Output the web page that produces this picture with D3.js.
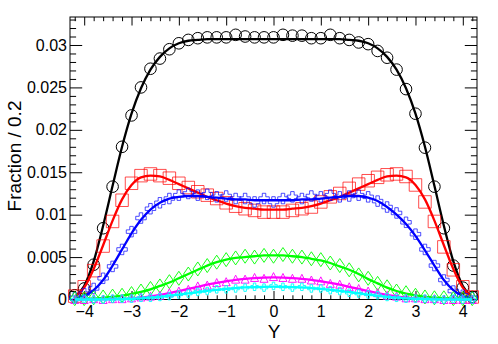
<!DOCTYPE html>
<html><head><meta charset="utf-8">
<script src="https://cdn.jsdelivr.net/npm/d3@7"></script>
<style>
body{margin:0;background:#fff}
svg{display:block}
text{font-family:"Liberation Sans",Arial,Helvetica,sans-serif}
</style>
</head><body>
<svg id="c" width="498" height="344"></svg>
<script>
// ---------- data ----------
const binCenters = [-4.2,-4.0,-3.8,-3.6,-3.4,-3.2,-3.0,-2.8,-2.6,-2.4,-2.2,-2.0,-1.8,-1.6,-1.4,-1.2,-1.0,-0.8,-0.6,-0.4,-0.2,0,
  0.2,0.4,0.6,0.8,1.0,1.2,1.4,1.6,1.8,2.0,2.2,2.4,2.6,2.8,3.0,3.2,3.4,3.6,3.8,4.0,4.2];
const xTickLabels = [-4,-3,-2,-1,0,1,2,3,4];
const yTickValues = [0,0.005,0.01,0.015,0.02,0.025,0.03];
const yTickLabels = ["0","0.005","0.01","0.015","0.02","0.025","0.03"];
const xTitle = "Y";
const yTitle = "Fraction / 0.2";

const blackData = [0.0005,0.0013,0.0041,0.0084,0.0133,0.0180,0.0217,0.0250,0.0272,0.0284,0.0295,0.0302,0.0306,0.0308,0.0309,0.0309,0.0309,0.0312,0.0310,0.0309,0.0309,0.0309,
  0.0312,0.0311,0.0311,0.0308,0.0308,0.0312,0.0308,0.0306,0.0303,0.0301,0.0293,0.0285,0.0271,0.0248,0.0219,0.0179,0.0133,0.0084,0.0040,0.0014,0.0003];
const blackFit = [0.0003,0.0016,0.0045,0.0087,0.0134,0.0180,0.0219,0.0249,0.0271,0.0286,0.0296,0.0302,0.0305,0.0306,
  0.0307,0.0307,0.0307,0.0307,0.0307,0.0307,0.0307,0.0307,0.0307,0.0307,0.0307,0.0307,0.0307,0.0307,0.0307,
  0.0306,0.0305,0.0302,0.0296,0.0286,0.0271,0.0249,0.0219,0.0180,0.0134,0.0087,0.0045,0.0016,0.0003];

const redData = [0.0004,0.0015,0.0034,0.0063,0.0092,0.0117,0.0137,0.0146,0.0148,0.0146,0.0143,0.0137,0.0132,0.0127,0.0123,0.0119,0.0114,0.0110,0.0107,0.0105,0.0103,0.0103,
  0.0103,0.0105,0.0107,0.0109,0.0115,0.0121,0.0125,0.0131,0.0136,0.0140,0.0144,0.0147,0.0148,0.0145,0.0135,0.0115,0.0092,0.0062,0.0035,0.0015,0.0003];
const redFit = [0.0003,0.0014,0.0036,0.0064,0.0093,0.0118,0.0135,0.0144,0.0146,0.0145,0.0141,0.0136,0.0131,0.0126,0.0121,0.0117,0.0113,0.0110,0.0108,0.0107,0.0106,0.0106,
  0.0106,0.0107,0.0108,0.0110,0.0113,0.0117,0.0121,0.0126,0.0131,0.0136,0.0141,0.0145,0.0146,0.0144,0.0135,0.0118,0.0093,0.0064,0.0036,0.0014,0.0003];

const blueData = [0.0002,0.0007,0.0013,0.0025,0.0039,0.0059,0.0080,0.0096,0.0107,0.0114,0.0119,0.0123,0.0125,0.0123,0.0124,0.0121,0.0122,0.0119,0.0119,0.0115,0.0119,0.0115,
  0.0119,0.0121,0.0119,0.0122,0.0121,0.0123,0.0121,0.0122,0.0123,0.0121,0.0116,0.0109,0.0102,0.0091,0.0077,0.0059,0.0040,0.0023,0.0010,0.0005,0.0002];
const blueFit = [0.0001,0.0004,0.0011,0.0023,0.0040,0.0059,0.0078,0.0094,0.0106,0.0114,0.0119,0.0121,0.0122,0.0122,0.0121,0.0120,0.0119,0.0118,0.0118,0.0117,0.0117,0.0117,
  0.0117,0.0117,0.0118,0.0118,0.0119,0.0120,0.0121,0.0122,0.0122,0.0120,0.0116,0.0109,0.0100,0.0089,0.0075,0.0058,0.0040,0.0023,0.0011,0.0004,0.0001];

const greenData = [0.0001,0.0001,0.0002,0.0003,0.0004,0.0005,0.0007,0.0010,0.0013,0.0016,0.0021,0.0025,0.0030,0.0036,0.0040,0.0044,0.0047,0.0049,0.0051,0.0050,0.0052,0.0051,
  0.0053,0.0051,0.0050,0.0048,0.0047,0.0043,0.0040,0.0035,0.0029,0.0025,0.0019,0.0015,0.0010,0.0008,0.0005,0.0003,0.0002,0.0002,0.0001,0.0001,0.0001];
const greenFit = [0.00005,0.00008,0.00012,0.0002,0.0003,0.00045,0.00065,0.0009,0.0012,0.0016,0.0020,0.0025,0.0030,0.0035,0.0040,0.0044,0.0047,0.0049,0.0050,0.0051,0.0052,0.0052,
  0.0052,0.0051,0.0050,0.0048,0.0046,0.0043,0.0039,0.0035,0.0030,0.0024,0.0019,0.0014,0.0010,0.0007,0.0005,0.00032,0.00022,0.00015,0.0001,0.00007,0.00005];

const magentaData = [0,0,0.0001,0,0.0001,0.0001,0.0002,0.0003,0.0004,0.0005,0.0008,0.0010,0.0012,0.0016,0.0017,0.0020,0.0021,0.0024,0.0024,0.0026,0.0025,0.0027,
  0.0026,0.0025,0.0025,0.0023,0.0022,0.0019,0.0018,0.0015,0.0013,0.0010,0.0008,0.0005,0.0004,0.0002,0.0002,0.0001,0.0001,0,0,0,0];
const magentaFit = [0,0,0.00001,0.00002,0.00004,0.00008,0.00014,0.00024,0.00038,0.00055,0.00076,0.00100,0.00125,0.00150,0.00175,0.00197,0.00215,0.00232,0.00244,0.00253,0.00258,0.00260,
  0.00258,0.00253,0.00244,0.00232,0.00215,0.00197,0.00175,0.00150,0.00125,0.00100,0.00076,0.00055,0.00038,0.00024,0.00014,0.00008,0.00004,0.00002,0.00001,0,0];

const cyanData = [0,0.0001,0,0,0.0001,0.0001,0.0001,0.0002,0.0002,0.0003,0.0004,0.0006,0.0007,0.0009,0.0010,0.0012,0.0012,0.0013,0.0014,0.0015,0.0014,0.0016,
  0.0015,0.0014,0.0015,0.0013,0.0013,0.0011,0.0010,0.0008,0.0007,0.0006,0.0005,0.0003,0.0002,0.0001,0.0001,0.0001,0,0,0.0001,0,0];
const cyanFit = [0,0,0,0.00001,0.00002,0.00004,0.00008,0.00014,0.00022,0.00032,0.00045,0.00058,0.00072,0.00087,0.00101,0.00114,0.00125,0.00135,0.00142,0.00147,0.00150,0.00151,
  0.00150,0.00147,0.00142,0.00135,0.00125,0.00114,0.00101,0.00087,0.00072,0.00058,0.00045,0.00032,0.00022,0.00014,0.00008,0.00004,0.00002,0.00001,0,0,0];

// ---------- layout ----------
const svg = d3.select("#c");
const L = 70, R = 477, T = 17, B = 299.5;
const x = d3.scaleLinear().domain([-4.3, 4.3]).range([L, R]);
const y = d3.scaleLinear().domain([0, 0.0333]).range([B, T]);

const xMinor = d3.range(-21, 22).map(i => i / 5).filter(v => Math.abs(v - Math.round(v)) > 1e-6);
const yMinor = d3.range(0, 34).map(i => i / 1000).filter(v => !yTickValues.some(t => Math.abs(t - v) < 1e-9));

function styleAxis(g){ g.select(".domain").remove(); g.selectAll("line").attr("stroke", "#000").attr("stroke-width", 1); }
const fontFam = '"Liberation Sans",Arial,sans-serif';

// bottom
svg.append("g").attr("transform", `translate(0,${B})`)
  .call(d3.axisBottom(x).tickValues(xMinor).tickSize(-4.2).tickFormat(""))
  .call(styleAxis);
svg.append("g").attr("transform", `translate(0,${B})`)
  .call(d3.axisBottom(x).tickValues(xTickLabels).tickSize(-8.5).tickPadding(6).tickFormat(d3.format("d")))
  .call(styleAxis)
  .call(g => g.selectAll("text").attr("font-size", 16).attr("fill", "#000").attr("font-family", fontFam));
// top
svg.append("g").attr("transform", `translate(0,${T})`)
  .call(d3.axisTop(x).tickValues(xMinor).tickSize(-4.2).tickFormat("")).call(styleAxis);
svg.append("g").attr("transform", `translate(0,${T})`)
  .call(d3.axisTop(x).tickValues(xTickLabels).tickSize(-8.5).tickFormat("")).call(styleAxis);
// left
svg.append("g").attr("transform", `translate(${L},0)`)
  .call(d3.axisLeft(y).tickValues(yMinor).tickSize(-6.1).tickFormat("")).call(styleAxis);
svg.append("g").attr("transform", `translate(${L},0)`)
  .call(d3.axisLeft(y).tickValues(yTickValues).tickSize(-12.2).tickPadding(3).tickFormat((d, i) => yTickLabels[i]))
  .call(styleAxis)
  .call(g => g.selectAll("text").attr("font-size", 16).attr("fill", "#000").attr("font-family", fontFam));
// right
svg.append("g").attr("transform", `translate(${R},0)`)
  .call(d3.axisRight(y).tickValues(yMinor).tickSize(-6.1).tickFormat("")).call(styleAxis);
svg.append("g").attr("transform", `translate(${R},0)`)
  .call(d3.axisRight(y).tickValues(yTickValues).tickSize(-12.2).tickFormat("")).call(styleAxis);

// frame
svg.append("rect").attr("x", L).attr("y", T).attr("width", R - L).attr("height", B - T)
  .attr("fill", "none").attr("stroke", "#000").attr("stroke-width", 1);

// titles
svg.append("text").attr("x", 274).attr("y", 338).attr("text-anchor", "middle")
  .attr("font-size", 19).text(xTitle);
svg.append("text").attr("transform", "translate(21,156) rotate(-90)").attr("text-anchor", "middle")
  .attr("font-size", 19).text(yTitle);

// ---------- marker shapes ----------
function circlePath(r){ return `M${-r},0A${r},${r} 0 1,0 ${r},0A${r},${r} 0 1,0 ${-r},0Z`; }
function squarePath(s){ const h = s/2; return `M${-h},${-h}H${h}V${h}H${-h}Z`; }
function crossPath(s){ const a = s/2, b = s/6; return `M${-b},${-a}H${b}V${-b}H${a}V${b}H${b}V${a}H${-b}V${b}H${-a}V${-b}H${-b}Z`; }
function diamondPath(w, h){ return `M0,${-h/2}L${w/2},0L0,${h/2}L${-w/2},0Z`; }
function trianglePath(s){ const h = s/2; return `M0,${-h}L${h},${h}L${-h},${h}Z`; }

const series = [
  {data: blackData, fit: blackFit, color: "#000000", path: circlePath(5.8), op: 1},
  {data: redData, fit: redFit, color: "#ff0000", path: squarePath(12.5), op: 0.7},
  {data: blueData, fit: blueFit, color: "#0000ff", path: crossPath(10.5), op: 0.7},
  {data: greenData, fit: greenFit, color: "#00ff00", path: diamondPath(9.5, 14), op: 0.9},
  {data: magentaData, fit: magentaFit, color: "#ff00ff", path: trianglePath(8), op: 0.9},
  {data: cyanData, fit: cyanFit, color: "#00ffff", path: crossPath(7.5), op: 0.9}
];

const line = d3.line().x(d => x(d[0])).y(d => y(d[1])).curve(d3.curveMonotoneX);

series.forEach(s => {
  svg.append("g").selectAll("path").data(binCenters.map((c, i) => [c, s.data[i]])).join("path")
    .attr("d", s.path)
    .attr("transform", d => `translate(${x(d[0])},${y(d[1])})`)
    .attr("fill", "none").attr("stroke", s.color).attr("stroke-width", 1).attr("stroke-opacity", s.op);
  svg.append("path").datum(binCenters.map((c, i) => [c, s.fit[i]]))
    .attr("d", line).attr("fill", "none").attr("stroke", s.color).attr("stroke-width", 2.3);
});
</script>
</body></html>
